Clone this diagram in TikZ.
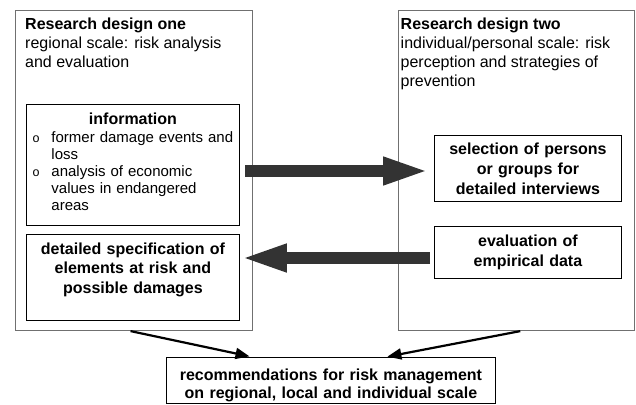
\documentclass[tikz,border=0pt]{standalone}
\usepackage{fontspec}
\setmainfont{Liberation Sans}
\usetikzlibrary{arrows.meta, calc}
\definecolor{framegray}{HTML}{707070}
\definecolor{arrowgray}{HTML}{333333}

\begin{document}
\begin{tikzpicture}[x=1pt, y=-1pt, font=\fontsize{16}{18.9}\selectfont,
  outer/.style={draw=framegray, line width=1.1pt, anchor=north west, inner sep=0pt},
  head/.style={anchor=north west, inner sep=0pt, align=left},
  box/.style={draw, line width=0.9pt, anchor=north west, inner sep=4pt, align=center, font=\fontsize{16}{19.5}\selectfont\bfseries},
  big arrow/.style={draw=arrowgray, line width=12.5pt, -{Triangle[length=47pt, width=25pt]}},
  thin arrow/.style={line width=2.2pt, -{Triangle[length=14pt, width=11pt]}}]
\useasboundingbox (0,0) rectangle (636,404);

% Define sizes
\pgfmathsetmacro{\H}{320}
\pgfmathsetmacro{\W}{237}

% Research designs
\node[outer, minimum width=\W, minimum height=\H] (one) at (14.5,10) {};
\node[outer, minimum width=\W-0.5, minimum height=\H] (two) at (397.5,10) {};
\node[head] (head one) at (25,18) {\textbf{Research design one}\\regional scale: risk analysis\\and evaluation};
\node[head] (head two) at (400.5,18) {\textbf{Research design two}\\individual/personal scale: risk\\perception and strategies of\\prevention};

% Boxes left
\node[box, align=left, inner xsep=2pt, text width=209pt, minimum height=121pt, font=\fontsize{15}{17.1}\selectfont] (info) at (26,104)
  {{\centering\fontsize{16}{17.1}\selectfont\textbf{information}\par}
   \hspace*{4.2pt}\makebox[18.8pt][l]{\fontsize{12.5}{12}\selectfont o}former damage events and\\
   \hspace*{23pt}loss\\
   \hspace*{4.2pt}\makebox[18.8pt][l]{\fontsize{12.5}{12}\selectfont o}analysis of economic\\
   \hspace*{23pt}values in endangered\\
   \hspace*{23pt}areas\rule[-6pt]{0pt}{6pt}};
\node[box, text width=205pt, minimum height=86pt] (spec) at (26,234)
  {detailed specification of\\elements at risk and\\possible damages\\\mbox{}};

% Boxes right
\node[box, text width=179pt, minimum height=66pt, font=\fontsize{16}{20}\selectfont\bfseries] (sel) at (434,135)
  {selection of persons\\or groups for\\detailed interviews};
\node[box, text width=179pt, minimum height=52.3pt, font=\fontsize{16}{20}\selectfont\bfseries] (eval) at (434,225.7)
  {evaluation of\\empirical data};

% Recommendations
\node[box, text width=321pt, inner ysep=1pt, minimum height=46pt, font=\fontsize{16}{18.3}\selectfont\bfseries] (rec) at (166,357)
  {\rule{0pt}{21.7pt}recommendations for risk management\\on regional, local and individual scale};

% Draw big arrows
\coordinate (r tail) at (245,171);
\coordinate (l tail) at (430,258);
\draw[big arrow, shorten >=4pt] (r tail) -- (r tail -| sel.west);
\draw[big arrow] (l tail) -- (l tail -| spec.east);

% Draw thin arrows
\draw[thin arrow, shorten >=3pt] ([xshift=-3pt]one.south) -- ([xshift=-78.5pt]rec.north);
\draw[thin arrow, shorten >=2pt] ([xshift=4pt]two.south) -- ([xshift=54.5pt]rec.north);

\end{tikzpicture}
\end{document}
